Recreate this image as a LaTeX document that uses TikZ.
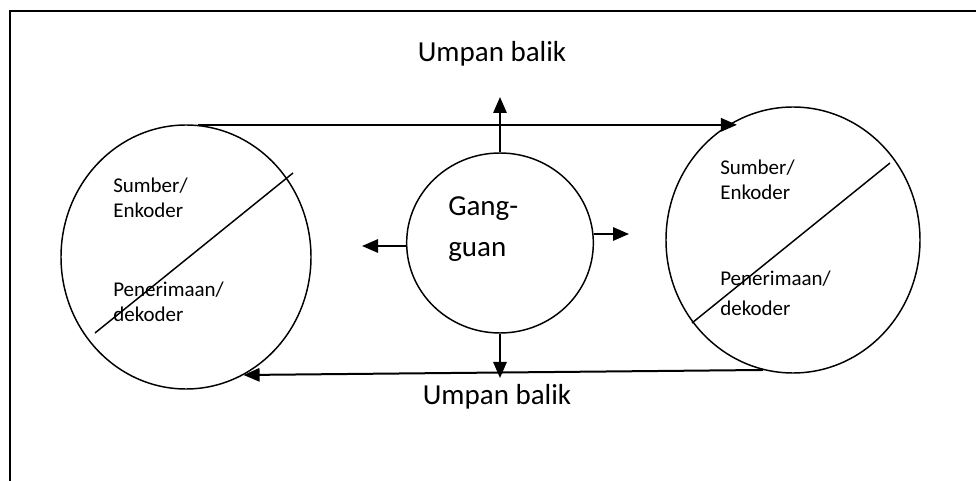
\documentclass[tikz,border=0pt]{standalone}
\usepackage{fontspec}
\setmainfont{Carlito}
\usetikzlibrary{arrows.meta,positioning,shapes.geometric}
\tikzset{%
	party/.style   = {draw, ellipse, line width=1.1pt, inner sep=0pt}, % Sumber / penerima
	noise/.style   = {draw, ellipse, line width=1.1pt, inner sep=0pt}, % Gangguan
	smalltxt/.style= {inner sep=0pt, align=left, font=\fontsize{15.75}{18.75}\selectfont},
	bigtxt/.style  = {inner sep=0pt, align=left, font=\fontsize{21.75}{30.75}\selectfont},
	arrow/.style   = {line width=1.5pt, -{Triangle[length=12pt,width=10pt]}},
}

\begin{document}
\begin{tikzpicture}[x=0.75pt,y=-0.75pt]
	\useasboundingbox (0,0) rectangle (976,481);
	\draw[line width=1.5pt] (10,481) -- (10,11) -- (976,11);
	% lingkaran
	\node[party, minimum width=187.5pt, minimum height=198pt] (kiri) at (186,257) {};
	\node[party, minimum width=190.5pt, minimum height=199.5pt] (kanan) at (793,240) {};
	\node[noise, minimum width=140pt, minimum height=135pt] (gangguan) at (500,243) {};
	% teks (base = baris terakhir)
	\node[smalltxt, anchor=base west] (kiri-sumber) at (113,218) {Sumber/\\Enkoder};
	\node[smalltxt, anchor=base west] (kiri-terima) at (113,322) {Penerimaan/\\dekoder};
	\node[smalltxt, anchor=base west] (kanan-sumber) at (720,200) {Sumber/\\Enkoder};
	\node[smalltxt, anchor=base west] (kanan-terima) at (720,316) {Penerimaan/\\[3.75pt]dekoder};
	\node[bigtxt, anchor=base west] (gangguan-txt) at (448,257) {Gang-\\guan};
	\node[bigtxt, anchor=base] (umpan-atas) at (492,62) {Umpan balik};
	\node[bigtxt, anchor=base] (umpan-bawah) at (497,405) {Umpan balik};
	% garis miring
	\draw[line width=1.1pt] (95,333) -- (293,173);
	\draw[line width=1.1pt] (692,323) -- (890,163);
	% panah
	\coordinate (g-atas) at (500,97);
	\coordinate (g-kiri) at (362,246);
	\coordinate (g-kanan) at (629,234);
	\coordinate (g-bawah) at (500,378);
	\draw[arrow] (kiri.85) -- (kiri.85 -| kanan.115);
	\draw[arrow] (kanan.257) -- (kiri.296);
	\draw[arrow] (gangguan.north) -- (g-atas);
	\draw[arrow] (gangguan.west |- g-kiri) -- (g-kiri);
	\draw[arrow] (gangguan.east |- g-kanan) -- (g-kanan);
	\draw[arrow] (gangguan.south) -- (g-bawah);
\end{tikzpicture}
\end{document}
